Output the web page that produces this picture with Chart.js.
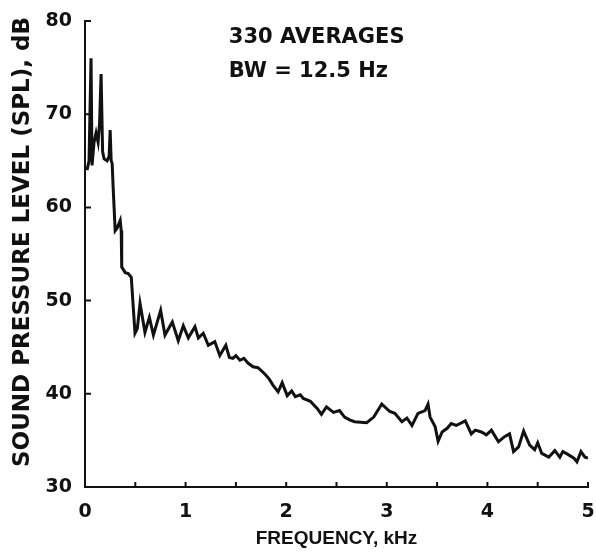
<!DOCTYPE html>
<html lang="en">
<head>
    <meta charset="UTF-8">
    <title>Sound Pressure Level Spectrum</title>
    <script src="https://cdn.jsdelivr.net/npm/chart.js"></script>
    <style>
        body {
            margin: 0;
            background-color: #ffffff;
        }
        .chart-box {
            width: 596px;
            height: 556px;
        }
    </style>
</head>
<body>
    <div class="chart-box">
        <canvas id="splChart" width="596" height="556"></canvas>
    </div>
    <script>
        // values
        const freqKHz = [
            0.02, 0.04, 0.06, 0.07, 0.09, 0.11, 0.13, 0.145, 0.16, 0.175,
            0.19, 0.22, 0.24, 0.25, 0.26, 0.27, 0.28, 0.30, 0.32, 0.35,
            0.36, 0.365, 0.40, 0.43, 0.46, 0.497, 0.52, 0.547, 0.596, 0.64,
            0.68, 0.752, 0.795, 0.868, 0.927, 0.977, 1.027, 1.093, 1.127, 1.176,
            1.226, 1.29, 1.34, 1.40, 1.435, 1.47, 1.50, 1.54, 1.58, 1.62,
            1.67, 1.72, 1.79, 1.83, 1.87, 1.92, 1.96, 2.01, 2.055, 2.09,
            2.14, 2.17, 2.24, 2.31, 2.35, 2.40, 2.47, 2.53, 2.58, 2.63,
            2.68, 2.80, 2.87, 2.95, 3.03, 3.08, 3.15, 3.20, 3.25, 3.31,
            3.38, 3.41, 3.43, 3.48, 3.51, 3.55, 3.60, 3.64, 3.69, 3.78,
            3.84, 3.88, 3.94, 3.99, 4.04, 4.11, 4.17, 4.22, 4.26, 4.31,
            4.36, 4.42, 4.47, 4.50, 4.54, 4.61, 4.67, 4.72, 4.75, 4.80,
            4.86, 4.89, 4.93, 4.97, 5.00
        ];
        const splDb = [
            64.0, 65.0, 76.0, 64.5, 67.0, 68.0, 67.0, 69.0, 74.3, 66.0,
            65.2, 65.0, 65.5, 68.3, 65.0, 64.7, 62.1, 57.5, 57.8, 58.6,
            57.5, 53.6, 53.0, 52.9, 52.5, 46.5, 47.0, 49.7, 46.6, 48.2,
            46.3, 48.95, 46.3, 47.7, 45.7, 47.3, 46.0, 47.2, 46.0, 46.5,
            45.2, 45.6, 44.1, 45.2, 43.9, 43.8, 44.1, 43.6, 43.8, 43.3,
            42.9, 42.8, 42.1, 41.6, 40.9, 40.2, 41.2, 39.8, 40.3, 39.7,
            39.9, 39.5, 39.2, 38.4, 37.8, 38.6, 38.0, 38.2, 37.5, 37.2,
            37.0, 36.9, 37.5, 38.9, 38.1, 37.9, 37.0, 37.4, 36.6, 37.9,
            38.2, 38.9, 37.5, 36.5, 34.9, 35.9, 36.3, 36.8, 36.6, 37.1,
            35.7, 36.1, 35.9, 35.6, 36.1, 34.85, 35.4, 35.7, 33.8, 34.3,
            36.0, 34.5, 34.0, 34.75, 33.6, 33.2, 33.9, 33.2, 33.8, 33.5,
            33.1, 32.7, 33.8, 33.2, 33.1
        ];
        const xTicks = [0, 1, 2, 3, 4, 5];
        const xMinorTicks = [0.5, 1.5, 2.5, 3.5, 4.5];
        const yTicks = [30, 40, 50, 60, 70, 80];
        const noteLines = ['330 AVERAGES', 'BW = 12.5 Hz'];

        const ink = '#111111';

        // short tick marks pointing into the plot, plus the text note
        const scanMarks = {
            id: 'scanMarks',
            afterDraw(chart) {
                const { ctx, chartArea, scales } = chart;
                const x = scales.x;
                const y = scales.y;
                ctx.save();
                ctx.strokeStyle = ink;
                ctx.lineWidth = 2;
                ctx.beginPath();
                xTicks.concat(xMinorTicks).forEach(v => {
                    const px = x.getPixelForValue(v);
                    ctx.moveTo(px, chartArea.bottom);
                    ctx.lineTo(px, chartArea.bottom - 5);
                });
                yTicks.forEach(v => {
                    const py = y.getPixelForValue(v);
                    ctx.moveTo(chartArea.left, py);
                    ctx.lineTo(chartArea.left + 6, py);
                });
                ctx.stroke();

                ctx.fillStyle = ink;
                ctx.font = 'bold 21px "DejaVu Sans"';
                ctx.textAlign = 'left';
                ctx.textBaseline = 'alphabetic';
                const noteX = x.getPixelForValue(1.43);
                ctx.fillText(noteLines[0], noteX, y.getPixelForValue(77.6));
                ctx.fillText(noteLines[1], noteX, y.getPixelForValue(74.0));
                ctx.restore();
            }
        };

        const points = freqKHz.map((f, i) => ({ x: f, y: splDb[i] }));

        new Chart(document.getElementById('splChart'), {
            type: 'line',
            data: {
                datasets: [{
                    data: points,
                    borderColor: ink,
                    borderWidth: 3,
                    pointRadius: 0,
                    tension: 0,
                    fill: false
                }]
            },
            options: {
                responsive: false,
                animation: false,
                layout: { padding: { top: 21, right: 8, bottom: 0, left: 0 } },
                plugins: {
                    legend: { display: false },
                    tooltip: { enabled: false }
                },
                scales: {
                    x: {
                        type: 'linear',
                        min: 0,
                        max: 5,
                        afterBuildTicks: axis => { axis.ticks = xTicks.map(v => ({ value: v })); },
                        afterFit: axis => {
                            axis.height = 69;
                            axis.paddingLeft = 0;
                            axis.paddingRight = 0;
                        },
                        grid: { drawOnChartArea: false, drawTicks: false },
                        border: { display: true, color: ink, width: 2 },
                        ticks: {
                            color: ink,
                            padding: 14,
                            font: { family: 'DejaVu Sans', weight: 'bold', size: 19 }
                        },
                        title: {
                            display: true,
                            text: 'FREQUENCY, kHz',
                            color: ink,
                            padding: { top: 0, bottom: 6 },
                            font: { family: 'Liberation Sans', weight: 'bold', size: 19 }
                        }
                    },
                    y: {
                        min: 30,
                        max: 80,
                        afterBuildTicks: axis => { axis.ticks = yTicks.map(v => ({ value: v })); },
                        afterFit: axis => {
                            axis.width = 85;
                            axis.paddingTop = 0;
                            axis.paddingBottom = 0;
                        },
                        grid: { drawOnChartArea: false, drawTicks: false },
                        border: { display: true, color: ink, width: 2 },
                        ticks: {
                            color: ink,
                            padding: 13,
                            font: { family: 'DejaVu Sans', weight: 'bold', size: 19 }
                        },
                        title: {
                            display: true,
                            // leading spaces nudge the rotated title up, as in the scan
                            text: '   SOUND PRESSURE LEVEL (SPL), dB',
                            color: ink,
                            padding: { top: 9, bottom: 0 },
                            font: { family: 'DejaVu Sans', weight: 'bold', size: 23 }
                        }
                    }
                }
            },
            plugins: [scanMarks]
        });
    </script>
</body>
</html>
